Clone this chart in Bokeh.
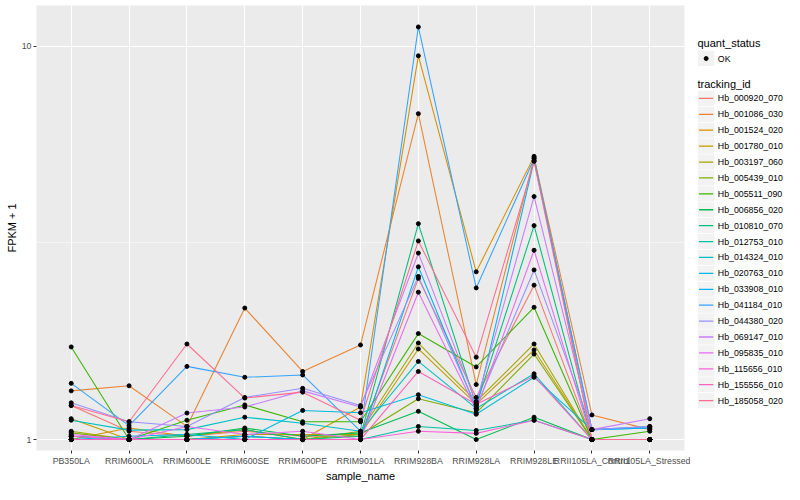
from bokeh.plotting import figure
from bokeh.models import Range1d, FixedTicker, ColumnDataSource, FactorRange, BasicTickFormatter
from bokeh.layouts import row
from bokeh.embed import file_html
from bokeh.resources import INLINE
from bokeh.core.properties import value

samples = ["PB350LA", "RRIM600LA", "RRIM600LE", "RRIM600SE", "RRIM600PE", "RRIM901LA",
           "RRIM928BA", "RRIM928LA", "RRIM928LE", "RRII105LA_Control", "RRII105LA_Stressed"]

tracking_ids = ["Hb_000920_070", "Hb_001086_030", "Hb_001524_020", "Hb_001780_010", "Hb_003197_060",
                "Hb_005439_010", "Hb_005511_090", "Hb_006856_020", "Hb_010810_070", "Hb_012753_010",
                "Hb_014324_010", "Hb_020763_010", "Hb_033908_010", "Hb_041184_010", "Hb_044380_020",
                "Hb_069147_010", "Hb_095835_010", "Hb_115656_010", "Hb_155556_010", "Hb_185058_020"]

colors = ["#F8766D", "#EA8331", "#D89000", "#C09B00", "#A3A500", "#7CAE00", "#39B600", "#00BB4E",
          "#00BF7D", "#00C1A3", "#00BFC4", "#00BAE0", "#00B0F6", "#35A2FF", "#9590FF", "#C77CFF",
          "#E76BF3", "#FA62DB", "#FF62BC", "#FF6C91"]

# FPKM + 1 per sample (order of `samples`)
hb_000920_070 = [1.22, 1.05, 1.02, 1.05, 1.02, 1.02, 2.57, 1.28, 2.47, 1.00, 1.00]
hb_001086_030 = [1.33, 1.37, 1.08, 2.16, 1.49, 1.74, 6.74, 1.38, 5.20, 1.155, 1.06]
hb_001524_020 = [1.00, 1.07, 1.02, 1.06, 1.00, 1.21, 9.46, 2.67, 5.25, 1.00, 1.00]
hb_001780_010 = [1.13, 1.00, 1.00, 1.03, 1.03, 1.03, 1.70, 1.23, 1.69, 1.00, 1.00]
hb_003197_060 = [1.05, 1.00, 1.00, 1.02, 1.00, 1.05, 1.76, 1.25, 1.75, 1.00, 1.00]
hb_005439_010 = [1.04, 1.00, 1.00, 1.00, 1.00, 1.03, 1.27, 1.17, 1.65, 1.00, 1.00]
hb_005511_090 = [1.72, 1.00, 1.12, 1.225, 1.11, 1.11, 1.86, 1.53, 2.17, 1.00, 1.05]
hb_006856_020 = [1.02, 1.00, 1.02, 1.07, 1.02, 1.04, 1.18, 1.00, 1.14, 1.00, 1.00]
hb_010810_070 = [1.00, 1.00, 1.03, 1.06, 1.00, 1.02, 3.54, 1.22, 3.50, 1.00, 1.00]
hb_012753_010 = [1.00, 1.00, 1.00, 1.02, 1.00, 1.00, 1.08, 1.055, 1.12, 1.00, 1.00]
hb_014324_010 = [1.12, 1.057, 1.06, 1.14, 1.10, 1.05, 1.58, 1.20, 1.47, 1.00, 1.00]
hb_020763_010 = [1.00, 1.02, 1.03, 1.00, 1.186, 1.17, 1.30, 1.16, 1.44, 1.06, 1.07]
hb_033908_010 = [1.02, 1.00, 1.00, 1.02, 1.00, 1.00, 2.75, 1.20, 5.12, 1.06, 1.07]
hb_041184_010 = [1.39, 1.085, 1.535, 1.44, 1.46, 1.05, 11.2, 2.43, 5.18, 1.06, 1.08]
hb_044380_020 = [1.24, 1.11, 1.08, 1.28, 1.35, 1.22, 2.60, 1.21, 2.70, 1.06, 1.08]
hb_069147_010 = [1.00, 1.00, 1.168, 1.21, 1.33, 1.21, 2.98, 1.24, 4.15, 1.06, 1.13]
hb_095835_010 = [1.03, 1.00, 1.08, 1.03, 1.05, 1.00, 2.37, 1.19, 3.03, 1.00, 1.00]
hb_115656_010 = [1.02, 1.00, 1.00, 1.00, 1.00, 1.00, 1.05, 1.037, 1.12, 1.00, 1.00]
hb_155556_010 = [1.00, 1.00, 1.00, 1.00, 1.00, 1.00, 1.49, 1.23, 1.45, 1.00, 1.00]
hb_185058_020 = [1.22, 1.11, 1.75, 1.275, 1.32, 1.12, 3.20, 1.62, 5.10, 1.00, 1.00]

series = [hb_000920_070, hb_001086_030, hb_001524_020, hb_001780_010, hb_003197_060,
          hb_005439_010, hb_005511_090, hb_006856_020, hb_010810_070, hb_012753_010,
          hb_014324_010, hb_020763_010, hb_033908_010, hb_041184_010, hb_044380_020,
          hb_069147_010, hb_095835_010, hb_115656_010, hb_155556_010, hb_185058_020]

y_ticks = [1, 10]
quant_status = ["OK"]

FONT = "Liberation Sans"
MAIN_W = 690
TOTAL_W = 784
H = 484

p = figure(width=MAIN_W, height=H,
           x_range=FactorRange(factors=samples, range_padding=0.1, range_padding_units="absolute"),
           y_range=Range1d(0.938, 12.70), y_axis_type="log",
           output_backend="svg", toolbar_location=None,
           min_border_left=36, min_border_right=6, min_border_top=5, min_border_bottom=27)
p.background_fill_color = "#EBEBEB"
p.border_fill_color = "white"
p.outline_line_color = None

p.xgrid.grid_line_color = "white"
p.xgrid.grid_line_width = 1.07
p.ygrid.ticker = FixedTicker(ticks=y_ticks, minor_ticks=[10 ** 0.5])
p.ygrid.grid_line_color = "white"
p.ygrid.grid_line_width = 1.07
p.ygrid.minor_grid_line_color = "white"
p.ygrid.minor_grid_line_width = 0.53

p.yaxis.ticker = FixedTicker(ticks=y_ticks)
p.yaxis.formatter = BasicTickFormatter()
for ax in (p.xaxis, p.yaxis):
    ax.axis_line_color = None
    ax.major_tick_line_color = "#333333"
    ax.major_tick_out = 3
    ax.major_tick_in = 0
    ax.minor_tick_line_color = None
    ax.major_label_text_font = FONT
    ax.major_label_text_font_size = "8.8px"
    ax.major_label_text_color = "#4D4D4D"
    ax.major_label_standoff = 2
    ax.axis_label_text_font = FONT
    ax.axis_label_text_font_size = "11px"
    ax.axis_label_text_font_style = "normal"
    ax.axis_label_text_color = "black"
    ax.axis_label_standoff = 1
p.xaxis.axis_label = "sample_name"
p.yaxis.axis_label = "FPKM + 1"

for vals, col in zip(series, colors):
    src = ColumnDataSource(dict(x=samples, y=vals))
    p.line("x", "y", source=src, line_color=col, line_width=1.07)
for vals in series:
    src = ColumnDataSource(dict(x=samples, y=vals))
    p.scatter("x", "y", source=src, marker="circle", size=4, fill_color="black", line_color="black")

# legend panel (coordinates in pixels from the top-left of this panel)
LW = TOTAL_W - MAIN_W
lg = figure(width=LW, height=H, x_range=Range1d(0, LW), y_range=Range1d(H, 0),
            output_backend="svg", toolbar_location=None,
            x_axis_location=None, y_axis_location=None,
            min_border_left=0, min_border_right=0, min_border_top=0, min_border_bottom=0)
lg.grid.visible = False
lg.outline_line_color = None
lg.background_fill_color = "white"
lg.border_fill_color = "white"

key = 17.3
x0 = 697 - MAIN_W
lg.text(x=[x0], y=[41], text=["quant_status"], text_font=value(FONT), text_font_size="11px",
        text_baseline="middle", text_align="left", text_color="black")
qy = [49 + key / 2 + i * key for i in range(len(quant_status))]
lg.rect(x=[x0 + key / 2] * len(qy), y=qy, width=key - 0.8, height=key - 0.8, fill_color="#F2F2F2", line_color=None)
lg.scatter(x=[x0 + key / 2] * len(qy), y=qy, size=4, marker="circle", fill_color="black", line_color="black")
lg.text(x=[x0 + key + 3] * len(qy), y=qy, text=quant_status, text_font=value(FONT), text_font_size="8.8px",
        text_baseline="middle", text_align="left", text_color="black")

lg.text(x=[x0], y=[85], text=["tracking_id"], text_font=value(FONT), text_font_size="11px",
        text_baseline="middle", text_align="left", text_color="black")
ty = [92.4 + key / 2 + i * key for i in range(len(tracking_ids))]
lg.rect(x=[x0 + key / 2] * len(ty), y=ty, width=key - 0.8, height=key - 0.8, fill_color="#F2F2F2", line_color=None)
lg.segment(x0=[x0 + 1.5] * len(ty), y0=ty, x1=[x0 + key - 1.5] * len(ty), y1=ty, line_color=colors, line_width=1.3)
lg.text(x=[x0 + key + 3] * len(ty), y=ty, text=tracking_ids, text_font=value(FONT), text_font_size="8.8px",
        text_baseline="middle", text_align="left", text_color="black")

layout = row(p, lg)
open("out.html", "w").write(file_html(layout, INLINE))
